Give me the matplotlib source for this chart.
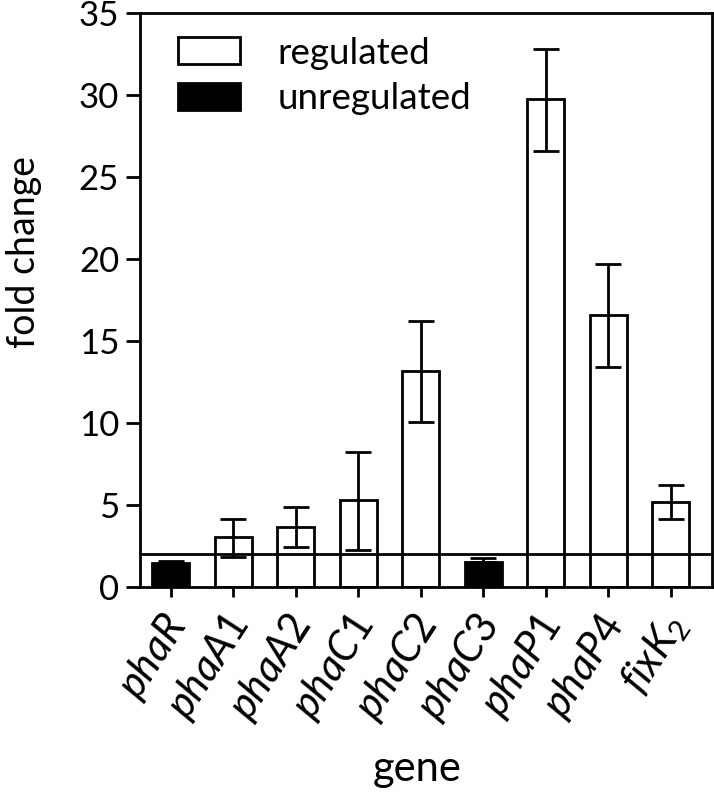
import matplotlib
matplotlib.use("Agg")
import matplotlib.pyplot as plt
from matplotlib.patches import Patch
from matplotlib.transforms import ScaledTranslation

plt.rcParams['font.family'] = ['Lato', 'DejaVu Sans']
plt.rcParams['mathtext.fontset'] = 'custom'
plt.rcParams['mathtext.rm'] = 'Lato'
plt.rcParams['mathtext.it'] = 'Lato:italic'

genes = ['phaR', 'phaA1', 'phaA2', 'phaC1', 'phaC2', 'phaC3', 'phaP1', 'phaP4', 'fixK2']
tick_labels = [r'$\mathit{phaR}$', r'$\mathit{phaA1}$', r'$\mathit{phaA2}$', r'$\mathit{phaC1}$',
               r'$\mathit{phaC2}$', r'$\mathit{phaC3}$', r'$\mathit{phaP1}$', r'$\mathit{phaP4}$',
               r'$\mathit{fixK}_{\mathrm{2}}$']
values = [1.43, 3.01, 3.66, 5.29, 13.17, 1.50, 29.72, 16.57, 5.16]
err_hi = [1.59, 4.11, 4.88, 8.23, 16.22, 1.75, 32.79, 19.68, 6.22]
err_lo = [1.43, 1.83, 2.40, 2.24, 10.02, 1.50, 26.59, 13.41, 4.11]
regulated = [False, True, True, True, True, False, True, True, True]
threshold = 2.0

fig = plt.figure(figsize=(7.14, 7.97), dpi=100)
ax = fig.add_axes([140/714, 1-586.7/797, 572/714, 574/797])

x = list(range(len(genes)))
colors = ['white' if r else 'black' for r in regulated]
ax.bar(x, values, width=0.59, color=colors, edgecolor='black', linewidth=2, zorder=2)
yerr = [[v - lo for v, lo in zip(values, err_lo)], [hi - v for v, hi in zip(values, err_hi)]]
ax.errorbar(x, values, yerr=yerr, fmt='none', ecolor='black', elinewidth=2,
            capsize=9.5, capthick=2, zorder=3)
ax.axhline(threshold, color='black', linewidth=2, zorder=4)

ax.set_xlim(-0.49, 8.66)
ax.set_ylim(0, 35)
ax.set_yticks(range(0, 36, 5))
ax.set_xticks(x)
ax.set_xticklabels(tick_labels, rotation=57, ha='right', va='center',
                   rotation_mode='anchor', fontsize=30)
ax.tick_params(axis='x', direction='out', length=7, width=2, pad=16)
ax.tick_params(axis='y', direction='out', length=10, width=2, labelsize=25, pad=5)
for s in ax.spines.values():
    s.set_linewidth(2)
shift = ScaledTranslation(0.07, 0, fig.dpi_scale_trans)
for lab in ax.get_xticklabels():
    lab.set_transform(lab.get_transform() + shift)

ax.set_ylabel('fold change', fontsize=27)
ax.yaxis.set_label_coords(-0.172, 0.583)
ax.set_xlabel('gene', fontsize=30)
ax.xaxis.set_label_coords(0.484, -0.284)

handles = [Patch(facecolor='white', edgecolor='black', linewidth=2, label='regulated'),
           Patch(facecolor='black', edgecolor='black', linewidth=2, label='unregulated')]
ax.legend(handles=handles, loc='upper left', bbox_to_anchor=(0.066, 0.958), frameon=False,
          fontsize=26.5, handlelength=1.7, handleheight=0.75, handletextpad=1.0,
          labelspacing=0.33, borderpad=0, borderaxespad=0)

fig.savefig('out.png', dpi=100)
